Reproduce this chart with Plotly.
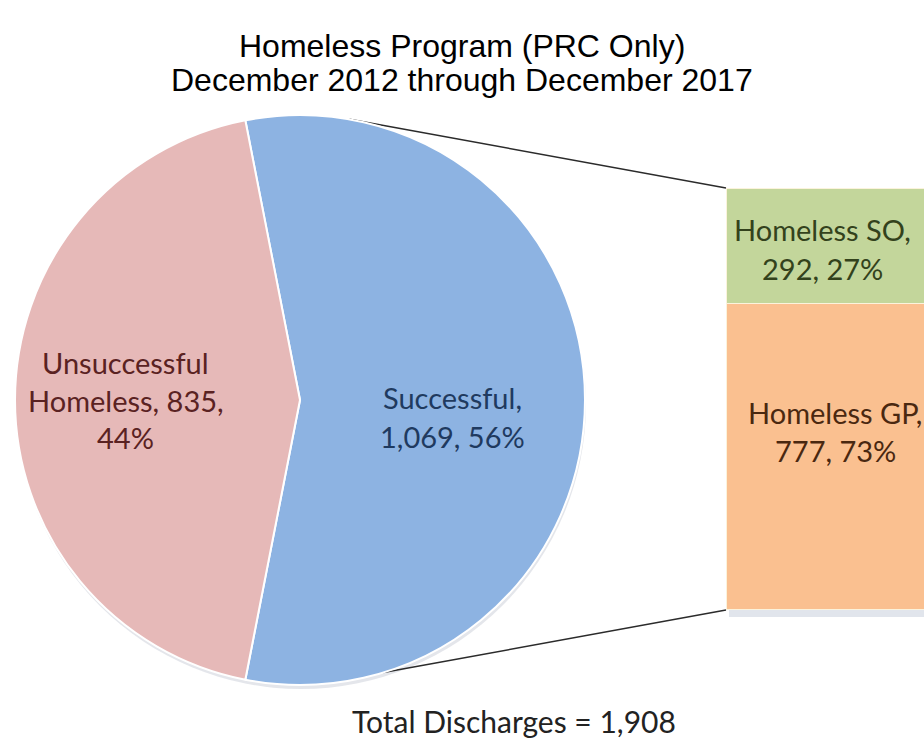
import math
import plotly.graph_objects as go

# ---- data -------------------------------------------------------------
pie_labels = ["Successful", "Unsuccessful Homeless"]
pie_values = [1069, 835]
pie_colors = ["#8DB3E2", "#E6B9B8"]
pie_text_colors = ["#1F3A5F", "#5A2222"]

bar_labels = ["Homeless GP", "Homeless SO"]   # stacked bottom -> top
bar_values = [777, 292]
bar_colors = ["#FAC090", "#C3D69B"]
bar_text_colors = ["#4A2810", "#33421C"]

title_lines = ["Homeless Program (PRC Only)", "December 2012 through December 2017"]
total_discharges = 1908

# ---- page geometry (pixels) ------------------------------------------
W, H = 924, 740
PIE_CX, PIE_CY, PIE_R = 300, 400, 285
BAR_LEFT, BAR_TOP, BAR_BOTTOM = 726, 188, 610
LINE_GAP = 38


def px(x):
    return x / W


def py(y):
    return 1 - y / H


label_font = "Lato, 'Open Sans', sans-serif"
title_font = "'Liberation Sans', Arial, sans-serif"

fig = go.Figure()

# ---- pie --------------------------------------------------------------
pie_total = sum(pie_values)
first_share = pie_values[0] / pie_total
fig.add_trace(go.Pie(
    labels=pie_labels,
    values=pie_values,
    sort=False,
    direction="clockwise",
    rotation=90 - 360 * first_share / 2,   # first slice centred at 3 o'clock
    marker=dict(colors=pie_colors, line=dict(color="white", width=2)),
    textinfo="none",
    hoverinfo="label+value+percent",
    showlegend=False,
    domain=dict(x=[px(PIE_CX - PIE_R), px(PIE_CX + PIE_R)],
                y=[py(PIE_CY + PIE_R), py(PIE_CY - PIE_R)]),
))

# ---- stacked bar of the successful slice -----------------------------
bar_total = sum(bar_values)
for lab, val, col in zip(bar_labels, bar_values, bar_colors):
    fig.add_trace(go.Bar(
        x=[0.75], y=[val], width=[1.5],
        name=lab,
        marker=dict(color=col, line=dict(color="#FBF3DC", width=1.5)),
        xaxis="x2", yaxis="y2",
        showlegend=False,
        hoverinfo="name+y",
    ))

fig.update_layout(
    barmode="stack",
    xaxis2=dict(domain=[px(BAR_LEFT), 1], range=[0, 1], visible=False, fixedrange=True),
    yaxis2=dict(domain=[py(BAR_BOTTOM), py(BAR_TOP)], range=[0, bar_total],
                visible=False, fixedrange=True, anchor="x2"),
)

# ---- connector lines from the pie edge to the bar corners ------------
def edge_point(angle_deg):
    a = math.radians(angle_deg)
    return PIE_CX + PIE_R * math.sin(a), PIE_CY - PIE_R * math.cos(a)


x0, y0 = edge_point(10)
x1, y1 = edge_point(163)
shapes = [
    # soft drop shadow behind the pie
    dict(type="circle", xref="paper", yref="paper", layer="below",
         x0=px(PIE_CX - PIE_R + 1), x1=px(PIE_CX + PIE_R + 1),
         y0=py(PIE_CY + PIE_R + 4), y1=py(PIE_CY - PIE_R + 4),
         fillcolor="#D9DCE2", opacity=0.7, line=dict(width=0)),
    dict(type="line", xref="paper", yref="paper", layer="below",
         x0=px(x0), y0=py(y0), x1=px(BAR_LEFT), y1=py(BAR_TOP),
         line=dict(color="#2B2B2B", width=1.5)),
    dict(type="line", xref="paper", yref="paper", layer="below",
         x0=px(x1), y0=py(y1), x1=px(BAR_LEFT), y1=py(BAR_BOTTOM),
         line=dict(color="#2B2B2B", width=1.5)),
    # soft shadow under the bar
    dict(type="rect", xref="paper", yref="paper", layer="below",
         x0=px(BAR_LEFT + 3), y0=py(BAR_BOTTOM + 7), x1=1, y1=py(BAR_BOTTOM),
         fillcolor="#C9D0DC", opacity=0.55, line=dict(width=0)),
]
fig.update_layout(shapes=shapes)

# ---- text -------------------------------------------------------------
def fmt(v):
    return f"{v:,}"


annotations = []


def text_block(lines, cx, cy_first, size, color, family=label_font, gap=LINE_GAP):
    for i, line in enumerate(lines):
        annotations.append(dict(
            text=line, x=px(cx), y=py(cy_first + i * gap),
            xref="paper", yref="paper", xanchor="center", yanchor="middle",
            showarrow=False, font=dict(family=family, size=size, color=color)))


pie_pct = [round(100 * v / pie_total) for v in pie_values]
bar_pct = [round(100 * v / bar_total) for v in bar_values]

text_block(title_lines, 462, 46, 32, "#000000", family=title_font, gap=34)

text_block([f"{pie_labels[0]},", f"{fmt(pie_values[0])}, {pie_pct[0]}%"],
           452, 398, 29, pie_text_colors[0])
text_block(["Unsuccessful", f"Homeless, {fmt(pie_values[1])},", f"{pie_pct[1]}%"],
           126, 362, 29, pie_text_colors[1])

text_block([f"{bar_labels[1]},", f"{fmt(bar_values[1])}, {bar_pct[1]}%"],
           822, 230, 29, bar_text_colors[1])
text_block([f"{bar_labels[0]},", f"{fmt(bar_values[0])}, {bar_pct[0]}%"],
           835, 412, 29, bar_text_colors[0])

text_block([f"Total Discharges = {fmt(total_discharges)}"], 514, 721, 30, "#222222")

fig.update_layout(
    annotations=annotations,
    width=W, height=H,
    margin=dict(l=0, r=0, t=0, b=0),
    paper_bgcolor="white",
    plot_bgcolor="white",
)

fig.write_html("out.html")
